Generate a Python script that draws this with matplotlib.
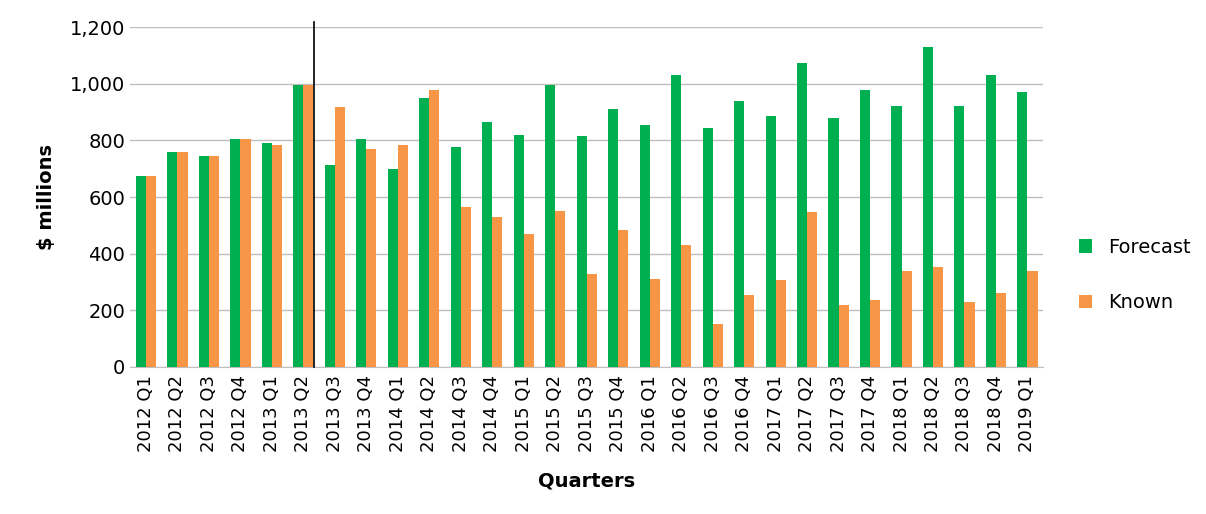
import numpy as np
import matplotlib
matplotlib.use("Agg")
import matplotlib.pyplot as plt

quarters = ["2012 Q1", "2012 Q2", "2012 Q3", "2012 Q4", "2013 Q1", "2013 Q2", "2013 Q3", "2013 Q4",
            "2014 Q1", "2014 Q2", "2014 Q3", "2014 Q4", "2015 Q1", "2015 Q2", "2015 Q3", "2015 Q4",
            "2016 Q1", "2016 Q2", "2016 Q3", "2016 Q4", "2017 Q1", "2017 Q2", "2017 Q3", "2017 Q4",
            "2018 Q1", "2018 Q2", "2018 Q3", "2018 Q4", "2019 Q1"]
forecast = [675, 760, 745, 805, 790, 995, 715, 805, 700, 950, 778, 865, 818, 995, 815, 910,
            855, 1030, 845, 940, 888, 1072, 878, 978, 922, 1130, 922, 1030, 972]
known = [675, 760, 745, 805, 785, 995, 920, 770, 785, 980, 565, 530, 468, 552, 330, 485,
         312, 430, 152, 255, 308, 548, 218, 238, 340, 352, 228, 260, 340]

fig = plt.figure(figsize=(12.06, 5.14), dpi=100)
ax = fig.add_axes([0.108, 0.286, 0.757, 0.661])
x = np.arange(len(quarters))
w = 0.32
ax.bar(x - w / 2, forecast, w, color="#00B050", label="Forecast", zorder=3)
ax.bar(x + w / 2, known, w, color="#F79646", label="Known", zorder=3)

# divider between actual and forecast periods
ax.plot([5.35, 5.35], [0, 1220], color="black", lw=1.2, clip_on=False, zorder=4)

ax.set_xlim(-0.5, len(quarters) - 0.5)
ax.set_ylim(0, 1200)
ax.set_yticks(range(0, 1201, 200))
ax.set_yticklabels([f"{v:,}" for v in range(0, 1201, 200)], fontsize=14)
ax.set_xticks(x)
ax.set_xticklabels(quarters, rotation=90, fontsize=13)
ax.tick_params(axis="x", pad=6)
ax.grid(axis="y", color="#BFBFBF", lw=1, zorder=0)
ax.tick_params(length=0)
for s in ["top", "right", "left"]:
    ax.spines[s].set_visible(False)
ax.spines["bottom"].set_color("#BFBFBF")
ax.set_ylabel("$ millions", fontsize=14, fontweight="bold", labelpad=10)
ax.set_xlabel("Quarters", fontsize=14, fontweight="bold", labelpad=14)
fig.legend(loc="center left", bbox_to_anchor=(0.88, 0.465), frameon=False, fontsize=14,
           handlelength=0.7, handleheight=0.7, labelspacing=1.9)
fig.savefig("out.png")
